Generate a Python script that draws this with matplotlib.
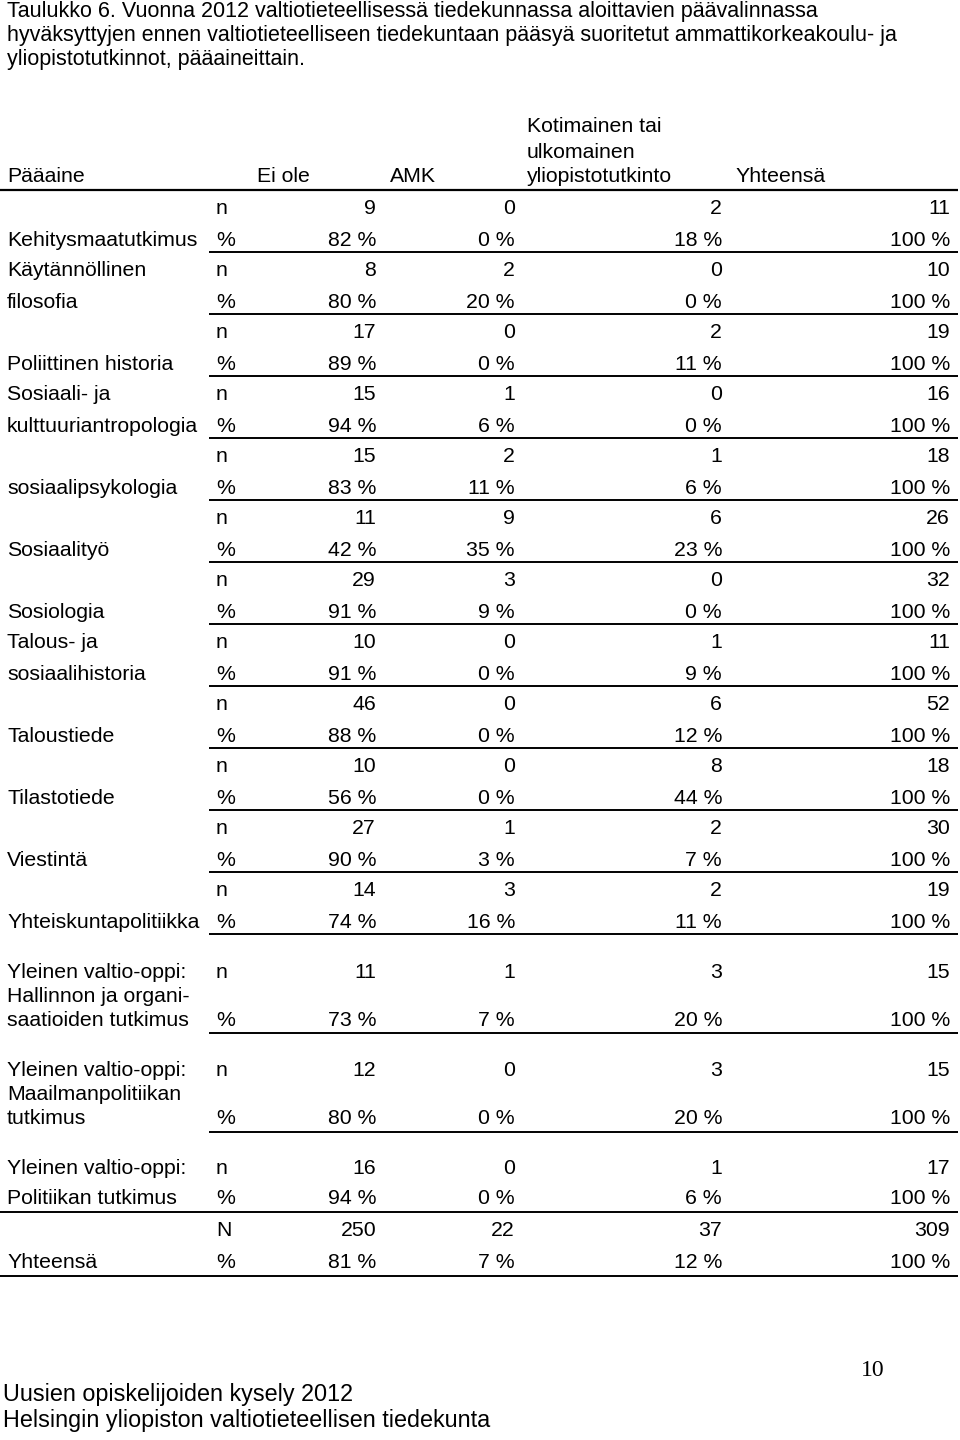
import matplotlib
matplotlib.use("Agg")
import matplotlib.pyplot as plt

# table data
subjects = ["Kehitysmaatutkimus", "Käytännöllinen\nfilosofia", "Poliittinen historia",
            "Sosiaali- ja\nkulttuuriantropologia", "sosiaalipsykologia", "Sosiaalityö",
            "Sosiologia", "Talous- ja\nsosiaalihistoria", "Taloustiede", "Tilastotiede",
            "Viestintä", "Yhteiskuntapolitiikka",
            "Yleinen valtio-oppi:\nHallinnon ja organi-\nsaatioiden tutkimus",
            "Yleinen valtio-oppi:\nMaailmanpolitiikan\ntutkimus",
            "Yleinen valtio-oppi:\nPolitiikan tutkimus", "Yhteensä"]
n_ei_ole = [9, 8, 17, 15, 15, 11, 29, 10, 46, 10, 27, 14, 11, 12, 16, 250]
n_amk = [0, 2, 0, 1, 2, 9, 3, 0, 0, 0, 1, 3, 1, 0, 0, 22]
n_yliopisto = [2, 0, 2, 0, 1, 6, 0, 1, 6, 8, 2, 2, 3, 3, 1, 37]
n_total = [11, 10, 19, 16, 18, 26, 32, 11, 52, 18, 30, 19, 15, 15, 17, 309]
pct_ei_ole = [82, 80, 89, 94, 83, 42, 91, 91, 88, 56, 90, 74, 73, 80, 94, 81]
pct_amk = [0, 20, 0, 6, 11, 35, 9, 0, 0, 0, 3, 16, 7, 0, 0, 7]
pct_yliopisto = [18, 0, 11, 0, 6, 23, 0, 9, 12, 44, 7, 11, 20, 20, 6, 12]
pct_total = [100] * 16
count_marks = ["n"] * 15 + ["N"]

col_headers = ["Pääaine", "Ei ole", "AMK", "Kotimainen tai\nulkomainen\nyliopistotutkinto", "Yhteensä"]

title_lines = ["Taulukko 6. Vuonna 2012 valtiotieteellisessä tiedekunnassa aloittavien päävalinnassa",
               "hyväksyttyjen ennen valtiotieteelliseen tiedekuntaan pääsyä suoritetut ammattikorkeakoulu- ja",
               "yliopistotutkinnot, pääaineittain."]
footer_lines = ["Uusien opiskelijoiden kysely 2012",
                "Helsingin yliopiston valtiotieteellisen tiedekunta"]

# layout (pixels): row block heights, n-row offset, %-row offset
row_h = [62] * 12 + [99, 99, 80, 64]
n_off = [18] * 12 + [38, 37, 36, 18]
p_off = [50] * 12 + [86, 85, 66, 50]

plt.rcParams['font.family'] = ['Liberation Sans', 'DejaVu Sans']

fig = plt.figure(figsize=(9.6, 14.4), dpi=100)
ax = fig.add_axes([0, 0, 1, 1])
ax.set_xlim(0, 960)
ax.set_ylim(1440, 0)
ax.axis('off')

fs = 15.3
for k, ln in enumerate(title_lines):
    ax.text(7, 12 + k * 24, ln, fontsize=15.5, va='center', ha='left')

# header
ax.text(7, 177, col_headers[0], fontsize=fs, va='center')
ax.text(257, 177, col_headers[1], fontsize=fs, va='center')
ax.text(390, 177, col_headers[2], fontsize=fs, va='center')
for k, ln in enumerate(col_headers[3].split("\n")):
    ax.text(527, 127 + k * 25, ln, fontsize=fs, va='center')
ax.text(735, 177, col_headers[4], fontsize=fs, va='center')
ax.plot([0, 958], [190, 190], color='black', lw=1.6, solid_capstyle='butt')

col_right = [376, 515, 722, 950]
top = 190
for i, name in enumerate(subjects):
    yn = top + n_off[i]
    yp = top + p_off[i]
    lines = name.split("\n")
    if len(lines) == 1:
        ax.text(7, yp, lines[0], fontsize=fs, va='center')
    else:
        step = (yp - yn) / (len(lines) - 1)
        for k, ln in enumerate(lines):
            ax.text(7, yn + k * step, ln, fontsize=fs, va='center')
    ax.text(216, yn, count_marks[i], fontsize=fs, va='center')
    ax.text(216, yp, "%", fontsize=fs, va='center')
    for x, v in zip(col_right, [n_ei_ole[i], n_amk[i], n_yliopisto[i], n_total[i]]):
        ax.text(x, yn, str(v), fontsize=fs, va='center', ha='right')
    for x, v in zip(col_right, [pct_ei_ole[i], pct_amk[i], pct_yliopisto[i], pct_total[i]]):
        ax.text(x, yp, f"{v} %", fontsize=fs, va='center', ha='right')
    top += row_h[i]
    x0 = 0 if i >= len(subjects) - 2 else 209
    ax.plot([x0, 958], [top, top], color='black', lw=1.4, solid_capstyle='butt')

ax.text(873, 1370, "10", family=['Liberation Serif'], fontsize=17, va='center', ha='center')
for k, ln in enumerate(footer_lines):
    ax.text(3, 1395 + k * 26, ln, fontsize=16.8, va='center', ha='left')

fig.savefig("out.png", dpi=100, facecolor='white')
